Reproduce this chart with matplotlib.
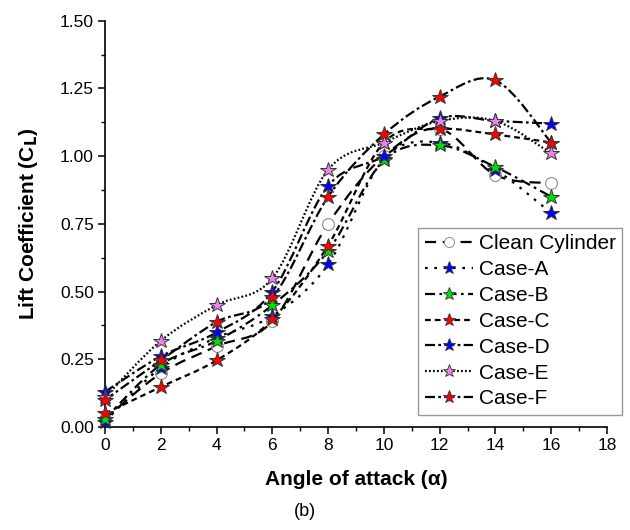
import matplotlib
matplotlib.use("Agg")
import matplotlib.pyplot as plt
from matplotlib.path import Path
from matplotlib.patches import PathPatch
from matplotlib.lines import Line2D
from matplotlib.ticker import MultipleLocator
import numpy as np

plt.rcParams['font.family'] = ['Liberation Sans', 'DejaVu Sans']

# ---- data ----
angles = [0, 2, 4, 6, 8, 10, 12, 14, 16]
series_names = ["Clean Cylinder", "Case-A", "Case-B", "Case-C", "Case-D", "Case-E", "Case-F"]
clean = [0.03, 0.198, 0.298, 0.39, 0.75, 1.00, 1.10, 0.93, 0.90]
case_a = [0.02, 0.219, 0.33, 0.41, 0.60, 0.99, 1.05, 0.95, 0.79]
case_b = [0.03, 0.23, 0.318, 0.45, 0.65, 0.985, 1.04, 0.96, 0.85]
case_c = [0.05, 0.148, 0.246, 0.398, 0.67, 1.05, 1.10, 1.08, 1.05]
case_d = [0.13, 0.261, 0.349, 0.50, 0.89, 1.00, 1.14, 1.13, 1.12]
case_e = [0.11, 0.318, 0.45, 0.549, 0.95, 1.05, 1.13, 1.13, 1.01]
case_f = [0.10, 0.246, 0.388, 0.48, 0.85, 1.08, 1.22, 1.28, 1.05]
values = [clean, case_a, case_b, case_c, case_d, case_e, case_f]

x_ticks = [0, 2, 4, 6, 8, 10, 12, 14, 16, 18]
y_ticks = [0.00, 0.25, 0.50, 0.75, 1.00, 1.25, 1.50]

# ---- styles ----
linestyles = [(0, (5, 3)), (0, (1.2, 3)), (0, (4.5, 2, 1.2, 2)), (0, (2.6, 1.8)),
              (0, (4.5, 1.5, 1.2, 1.5)), (0, (0.8, 1.0)), (0, (4.5, 1.5, 1.2, 1.5))]
markers = ['o', '*', '*', '*', '*', '*', '*']
facecolors = ['white', '#0000FF', '#00E000', '#FF0000', '#0000FF', '#EE82EE', '#FF0000']
edgecolors = ['#808080', '#333333', '#333333', '#333333', '#333333', '#333333', '#333333']
msizes = [8.5, 11.5, 11.5, 11.5, 11.5, 11.5, 11.5]


def smooth_path(xs, ys):
    pts = np.column_stack([xs, ys]).astype(float)
    n = len(pts)
    verts = [pts[0]]
    codes = [Path.MOVETO]
    for i in range(n - 1):
        p0 = pts[i - 1] if i > 0 else pts[i]
        p1 = pts[i]
        p2 = pts[i + 1]
        p3 = pts[i + 2] if i + 2 < n else pts[i + 1]
        c1 = p1 + (p2 - p0) / 6.0
        c2 = p2 - (p3 - p1) / 6.0
        verts += [c1, c2, p2]
        codes += [Path.CURVE4] * 3
    return Path(verts, codes)


fig = plt.figure(figsize=(6.3, 5.3), dpi=100)
ax = fig.add_axes([105 / 630, 1 - 427 / 530, (607 - 105) / 630, (427 - 20.7) / 530])

handles = []
for name, ys, ls, mk, fc, ec, ms in zip(series_names, values, linestyles, markers,
                                         facecolors, edgecolors, msizes):
    patch = PathPatch(smooth_path(angles, ys), fill=False, edgecolor='black',
                      linewidth=1.6, linestyle=ls, zorder=2)
    ax.add_patch(patch)
    ax.plot(angles, ys, linestyle='none', marker=mk, markersize=ms,
            markerfacecolor=fc, markeredgecolor=ec, markeredgewidth=0.7,
            zorder=3, clip_on=False)
    handles.append(Line2D([], [], color='black', linewidth=1.6, linestyle=ls,
                          marker=mk, markersize=ms * 0.85, markerfacecolor=fc,
                          markeredgecolor=ec, markeredgewidth=0.6))

ax.set_xlim(0, 18)
ax.set_ylim(0, 1.5)
ax.set_xticks(x_ticks)
ax.set_yticks(y_ticks)
ax.set_yticklabels([f"{v:.2f}" for v in y_ticks])
ax.xaxis.set_minor_locator(MultipleLocator(1))
ax.yaxis.set_minor_locator(MultipleLocator(0.125))
ax.tick_params(which='major', direction='out', length=5, width=1.1, labelsize=12.5, pad=3)
ax.tick_params(which='minor', direction='out', length=3, width=1.0)
for s in ['top', 'right']:
    ax.spines[s].set_visible(False)
for s in ['left', 'bottom']:
    ax.spines[s].set_linewidth(1.2)

ax.set_xlabel("Angle of attack (\u03b1)", fontsize=15, fontweight='bold', labelpad=12)
ax.set_ylabel("Lift Coefficient (C$_\\mathbf{L}$)", fontsize=15, fontweight='bold', labelpad=14)

leg = fig.legend(handles, series_names, loc='upper right',
                 bbox_to_anchor=(622 / 630, 1 - 228 / 530), fontsize=15,
                 frameon=True, fancybox=False, edgecolor='#808080',
                 handlelength=2.3, handletextpad=0.3, labelspacing=0.33,
                 borderpad=0.3, borderaxespad=0)
leg.get_frame().set_linewidth(1.0)

fig.text(305 / 630, 1 - 512 / 530, "(b)", fontsize=13, ha='center', va='center')

fig.savefig("out.png", dpi=100)
